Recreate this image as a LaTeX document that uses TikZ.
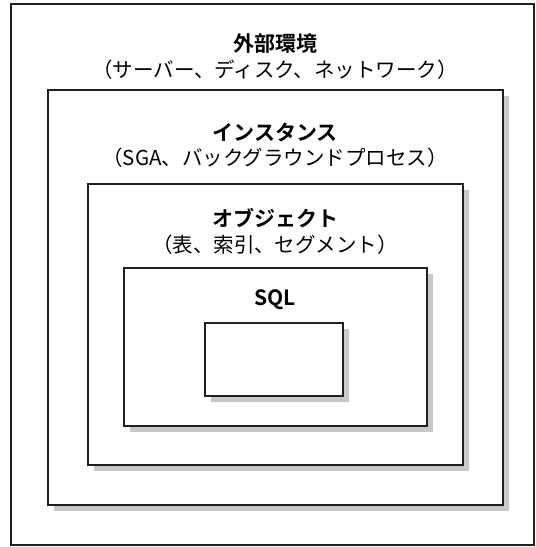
\documentclass[tikz,border=0pt]{standalone}
\usepackage{fontspec}
\setmainfont{Noto Sans CJK JP}[BoldFont={Noto Sans CJK JP Bold}]
\usetikzlibrary{shadows}
\definecolor{edge}{HTML}{231F20}
\definecolor{shade}{HTML}{C8C8C8}
\tikzset{
  frame/.style={draw=edge, line width=2.6pt, fill=white, inner sep=0pt, rectangle},
  shadowed/.style={frame, drop shadow={shadow xshift=6pt, shadow yshift=-6pt, fill=shade, opacity=1}},
  title/.style={font=\fontsize{21}{24}\selectfont\bfseries, inner sep=0pt, text=black},
  sub/.style={font=\fontsize{20.5}{24}\selectfont, inner sep=0pt, text=black}
}
\begin{document}
\begin{tikzpicture}[x=1pt,y=-1pt]
\useasboundingbox (0,0) rectangle (536,547);
\node[frame, minimum width=523pt, minimum height=541pt] (env) at (272.5,274.5) {};
\node[shadowed, minimum width=455pt, minimum height=415pt] (inst) at (275.5,297.5) {};
\node[shadowed, minimum width=375pt, minimum height=281pt] (obj) at (275.5,324.5) {};
\node[shadowed, minimum width=303pt, minimum height=158pt] (sqlarea) at (275.5,347) {};
\node[shadowed, minimum width=138pt, minimum height=73pt] (sqlbox) at (274,359.5) {};
\node[title] (t1) at (275,44) {外部環境};
\node[sub] (s1) at (275,70) {（サーバー、ディスク、ネットワーク）};
\node[title] (t2) at (275,132) {インスタンス};
\node[sub] (s2) at (275,158) {（SGA、バックグラウンドプロセス）};
\node[title] (t3) at (275,218) {オブジェクト};
\node[sub] (s3) at (275,245) {（表、索引、セグメント）};
\node[title] (t4) at (275,300) {SQL};
\end{tikzpicture}
\end{document}
